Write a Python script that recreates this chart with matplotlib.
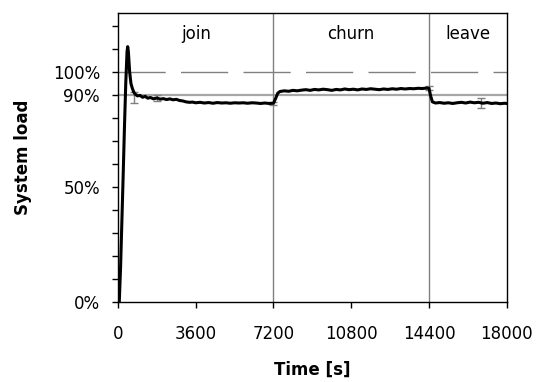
import matplotlib
matplotlib.use("Agg")
import matplotlib.pyplot as plt

plt.rcParams['font.family'] = ['DejaVu Sans']

# Measured system load (%) over time (s)
time_s = [0, 60, 120, 180, 240, 300, 360, 420, 450, 480, 540, 600, 660, 720, 780,
          900, 1020, 1140, 1260, 1380, 1500, 1650, 1800, 1950, 2100, 2250, 2400,
          2550, 2700, 2850, 3000, 3150, 3300, 3450, 3600, 3800, 4000, 4200, 4400,
          4600, 4800, 5000, 5200, 5400, 5600, 5800, 6000, 6200, 6400, 6600, 6800,
          7000, 7200, 7300, 7400, 7500, 7700, 7900, 8100, 8300, 8500, 8700, 8900,
          9100, 9300, 9500, 9700, 9900, 10100, 10300, 10500, 10700, 10900, 11100,
          11300, 11500, 11700, 11900, 12100, 12300, 12500, 12700, 12900, 13100,
          13300, 13500, 13700, 13900, 14100, 14300, 14400, 14480, 14560, 14700,
          14900, 15100, 15300, 15500, 15700, 15900, 16100, 16300, 16500, 16700,
          16900, 17100, 17300, 17500, 17700, 17900, 18000]
load_pct = [0, 0, 15, 35, 55, 76, 95, 109, 111, 109, 100, 95, 93, 91.5, 90.5,
            89.6, 89.8, 89.0, 89.4, 88.6, 88.9, 88.3, 88.7, 88.2, 88.4, 88.0, 88.3,
            87.9, 88.1, 87.6, 87.4, 87.0, 86.8, 86.9, 86.6, 86.8, 86.5, 86.7, 86.4,
            86.7, 86.5, 86.6, 86.4, 86.6, 86.5, 86.6, 86.4, 86.6, 86.5, 86.3, 86.5,
            86.3, 86.4, 88.5, 90.8, 91.5, 91.8, 91.6, 92.0, 91.8, 92.1, 92.3, 92.0,
            92.4, 92.2, 92.5, 92.3, 92.0, 92.4, 92.2, 92.6, 92.3, 92.5, 92.2,
            92.6, 92.4, 92.7, 92.5, 92.3, 92.6, 92.4, 92.7, 92.5, 92.8,
            92.6, 92.8, 92.7, 92.9, 92.8, 93.0, 92.9, 89.5, 87.0, 86.5,
            86.7, 86.4, 86.6, 86.3, 86.6, 86.8, 86.5, 86.9, 86.6, 86.8,
            86.4, 86.7, 86.3, 86.5, 86.2, 86.4, 86.3]

# Spread of the load at selected instants
err_t = [720, 1800, 7200, 14400, 16800]
err_mid = [89.0, 88.7, 86.4, 93.0, 86.6]
err_half = [2.3, 1.3, 0.6, 0.7, 2.1]

phase_bounds = [7200, 14400]
phase_names = ["join", "churn", "leave"]
phase_label_t = [3600, 10800, 16200]

target_pct = 90
capacity_pct = 100

x_ticks = [0, 3600, 7200, 10800, 14400, 18000]
y_ticks = list(range(0, 130, 10))
y_labelled = {0: "0%", 50: "50%", 90: "90%", 100: "100%"}

fig = plt.figure(figsize=(5.37, 3.82), dpi=100)
ax = fig.add_axes([0.2197, 0.2094, 0.7239, 0.7558])

ax.axhline(capacity_pct, color="#808080", lw=1.0, dashes=(34, 11), zorder=1)
ax.axhline(target_pct, color="#a6a6a6", lw=1.6, zorder=1)
for b in phase_bounds:
    ax.axvline(b, color="#808080", lw=1.0, zorder=1)

ax.errorbar(err_t, err_mid, yerr=err_half, fmt="none", ecolor="#7f7f7f",
            elinewidth=1.0, capsize=3, capthick=1.0, zorder=2)
ax.plot(time_s, load_pct, color="black", lw=2.2, zorder=3, solid_joinstyle="round")

for name, t in zip(phase_names, phase_label_t):
    ax.text(t, 116.5, name, ha="center", va="center", fontsize=12)

ax.set_xlim(0, 18000)
ax.set_ylim(0, 125.5)
ax.set_xticks(x_ticks)
ax.set_xticklabels([str(v) for v in x_ticks], fontsize=12)
ax.set_yticks(y_ticks)
ax.set_yticklabels([y_labelled.get(v, "") for v in y_ticks], fontsize=12)
ax.tick_params(axis="x", direction="out", length=4.5, width=1, pad=12)
ax.tick_params(axis="y", direction="out", length=4, width=1, pad=9)

for sp in ax.spines.values():
    sp.set_linewidth(1.0)
    sp.set_color("black")

ax.set_xlabel("Time [s]", fontsize=12, fontweight="bold", labelpad=13)
ax.set_ylabel("System load", fontsize=12, fontweight="bold", labelpad=15)

fig.savefig("out.png", dpi=100)
